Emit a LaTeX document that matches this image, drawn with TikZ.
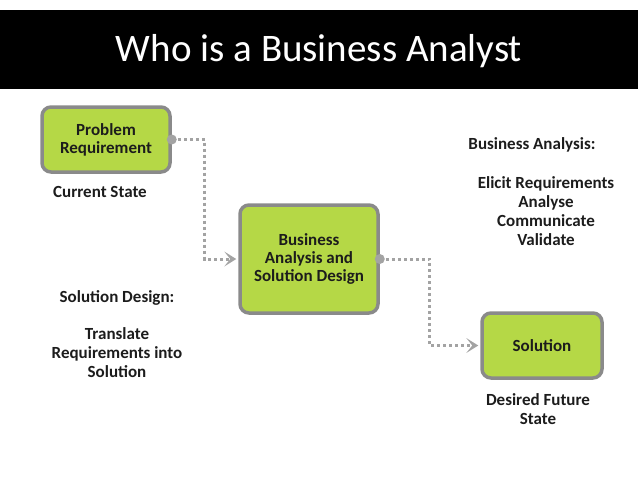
\documentclass[tikz,border=0pt]{standalone}
\usepackage{fontspec}
\setmainfont{Carlito}
\usetikzlibrary{arrows.meta}
\definecolor{boxgreen}{HTML}{B5D846}
\definecolor{boxline}{HTML}{8A8A8A}
\definecolor{linkgray}{HTML}{A3A3A3}
\definecolor{txt}{HTML}{1C1C1C}
\begin{document}
\begin{tikzpicture}[x=1pt, y=-1pt,
    stagebox/.style={draw=boxline, line width=3.5pt, fill=boxgreen, rounded corners=9pt,
        align=center, font=\bfseries\fontsize{17}{18}\selectfont, text=txt, inner sep=0pt},
    note/.style={align=center, font=\bfseries\fontsize{17}{19}\selectfont, text=txt},
    link/.style={linkgray, line width=3pt, dash pattern=on 3pt off 3pt,
        -{Stealth[length=12pt, width=15pt, inset=6pt, line width=0pt]}, shorten >=2pt}]
    \useasboundingbox (0,0) rectangle (638,479);

    % Bandeau du titre
    \fill[black] (0,10) rectangle (638,89);
    \node[white, font=\fontsize{39}{42}\selectfont] (title) at (319,51) {Who is a Business Analyst};

    % Les trois etapes
    \node[stagebox, minimum width=128pt, minimum height=65pt] (prob) at (106,139.5) {Problem\\Requirement};
    \node[stagebox, minimum width=138pt, minimum height=108pt] (ba) at (309,259) {Business\\Analysis and\\Solution Design};
    \node[stagebox, minimum width=120pt, minimum height=65pt] (sol) at (542,345.5) {Solution};

    % Liens pointilles
    \draw[link] (prob.east) -- ++(33,0) |- (ba.west);
    \draw[link] (ba.east) -- ++(50,0) |- (sol.west);
    \foreach \n in {prob, ba}{
        \fill[linkgray] (\n.east) circle (5pt);
    }

    % Textes
    \node[note] (cur) at (100,192) {Current State};
    \node[note] (bahead) at (532,145) {Business Analysis:};
    \node[note] (balist) at (546,211.5) {Elicit Requirements\\Analyse\\Communicate\\Validate};
    \node[note] (sdhead) at (117,298) {Solution Design:};
    \node[note] (sdlist) at (117,352.5) {Translate\\Requirements into\\Solution};
    \node[note] (fut) at (538,409) {Desired Future\\State};

\end{tikzpicture}
\end{document}
